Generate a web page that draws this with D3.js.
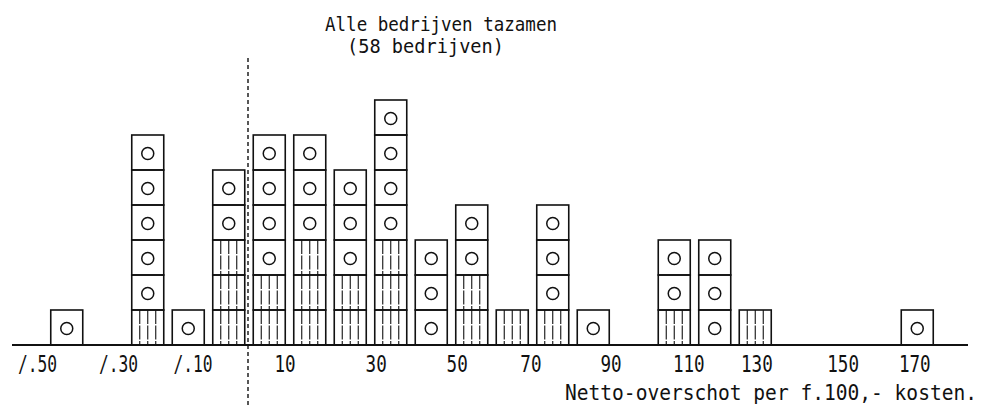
<!DOCTYPE html>
<html>
<head>
<meta charset="utf-8">
<script src="https://cdn.jsdelivr.net/npm/d3@7"></script>
<style>
  html, body { margin: 0; padding: 0; background: #fff; }
  svg { display: block; }
  text { font-family: "DejaVu Sans Mono", "Liberation Mono", monospace; fill: #111; }
</style>
</head>
<body>
<svg id="chart" width="981" height="410"></svg>
<script>
// ---- data ----
// each column: class of "Netto-overschot per f.100,- kosten" (lower bound, width 10)
const binStarts     = [-50, -30, -20, -10, 0, 10, 20, 30, 40, 50, 60, 70, 80, 100, 110, 120, 160];
// number of hatched squares (bottom of each stack)
const hatchedCounts = [  0,   1,   0,   3, 2,  3,  2,  3,  0,  2,  1,  1,  0,   1,   0,   1,   0];
// number of squares with a circle (on top of the hatched ones)
const circleCounts  = [  1,   5,   1,   2, 4,  3,  3,  4,  3,  2,  0,  3,  1,   2,   3,   0,   1];
const binWidth = 10;

// tick labels and where they sit on the value axis (as printed)
const tickLabels    = ["/.50", "/.30", "/.10", "10", "30", "50", "70", "90", "110", "130", "150", "170"];
const tickPositions = [-50, -30, -11.6, 8.9, 31.4, 51.4, 69.6, 89.4, 108.6, 125.4, 146.7, 164.4];

const titleLines = ["Alle bedrijven tazamen", "(58 bedrijven)"];
const axisTitle  = "Netto-overschot per f.100,- kosten.";

// ---- drawing ----
const svg = d3.select("#chart");
const x = d3.scaleLinear().domain([-50, 170]).range([46.5, 937.5]);
const y = d3.scaleLinear().domain([0, 7]).range([345, 100]);
const unitW = x(binWidth) - x(0);
const boxW = 32;
const pad = (unitW - boxW) / 2;
const ink = "#111";

// build cell list
const cells = [];
binStarts.forEach((b, i) => {
  let level = 0;
  for (let k = 0; k < hatchedCounts[i]; k++) cells.push({ b, level: level++, type: "hatch" });
  for (let k = 0; k < circleCounts[i]; k++) cells.push({ b, level: level++, type: "circle" });
});

const g = svg.append("g");

// hatching lines inside hatched cells
cells.filter(c => c.type === "hatch").forEach(c => {
  const x0 = x(c.b) + pad;
  [1, 2, 3].forEach(j => {
    g.append("line")
      .attr("x1", x0 + boxW * j / 4).attr("x2", x0 + boxW * j / 4)
      .attr("y1", y(c.level + 1)).attr("y2", y(c.level))
      .attr("stroke", ink).attr("stroke-width", 1.1)
      .attr("stroke-dasharray", "14,1.5");
  });
});

// cell outlines
g.selectAll("rect.cell").data(cells).join("rect")
  .attr("class", "cell")
  .attr("x", d => x(d.b) + pad)
  .attr("y", d => y(d.level + 1))
  .attr("width", boxW)
  .attr("height", d => y(d.level) - y(d.level + 1))
  .attr("fill", "none")
  .attr("stroke", ink)
  .attr("stroke-width", 1.6);

// circles
g.selectAll("circle.mark").data(cells.filter(c => c.type === "circle")).join("circle")
  .attr("class", "mark")
  .attr("cx", d => x(d.b + binWidth / 2))
  .attr("cy", d => (y(d.level) + y(d.level + 1)) / 2 + 1)
  .attr("r", 6)
  .attr("fill", "none")
  .attr("stroke", ink)
  .attr("stroke-width", 1.5);

// baseline axis
svg.append("line")
  .attr("x1", 12).attr("x2", 968)
  .attr("y1", y(0)).attr("y2", y(0))
  .attr("stroke", ink).attr("stroke-width", 1.8);

// dashed zero line
svg.append("line")
  .attr("x1", x(0) - 1).attr("x2", x(0) - 1)
  .attr("y1", 58).attr("y2", 406)
  .attr("stroke", ink).attr("stroke-width", 1.4)
  .attr("stroke-dasharray", "4,3");

// tall, narrow typewriter text: one <text> scaled vertically
function tallText(str, tx, ty, size, sy, len) {
  return svg.append("text")
    .attr("transform", `translate(${tx},${ty}) scale(1,${sy})`)
    .attr("font-size", size)
    .attr("textLength", len).attr("lengthAdjust", "spacingAndGlyphs")
    .text(str);
}

// tick labels (negative values printed as "/."); the number is centred on its position
tickLabels.forEach((lab, i) => {
  const cx = x(tickPositions[i]);
  const neg = lab.startsWith("/.");
  const num = neg ? lab.slice(2) : lab;
  const w = num.length * 10.6;
  const pre = neg ? 18 : 0;
  tallText(lab, cx - w / 2 - pre, 372, 17, 1.36, w + pre);
});

// title
tallText(titleLines[0], 325, 31, 17, 1.1, 232);
tallText(titleLines[1], 347, 53, 17, 1.1, 157);

// axis title
tallText(axisTitle, 565, 400, 17.4, 1.2, 412);
</script>
</body>
</html>
